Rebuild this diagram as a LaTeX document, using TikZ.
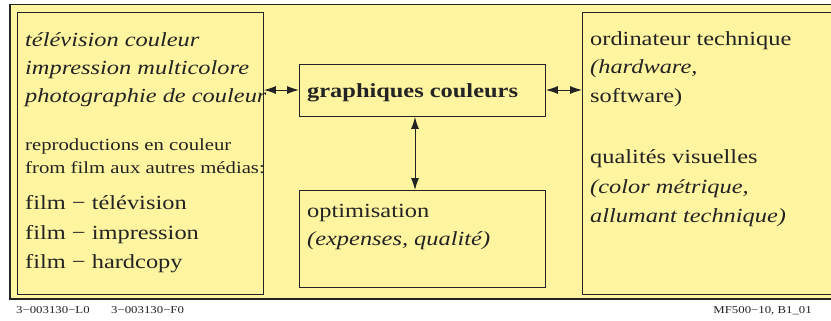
\documentclass[tikz,border=0pt]{standalone}
\usepackage{fontspec}
\setmainfont{Liberation Serif}[FakeStretch=1.22]
\usetikzlibrary{arrows.meta}
\definecolor{paper}{RGB}{255,245,160}
\definecolor{ink}{RGB}{35,35,35}
\begin{document}
\begin{tikzpicture}[x=1bp,y=-1bp,
  frame/.style={draw=ink,line width=1.3bp,fill=paper},
  box/.style={draw=ink,line width=0.9bp,fill=paper,inner sep=0pt,anchor=north west},
  txt/.style={anchor=base west,inner sep=0pt,text=ink},
  big/.style={font=\fontsize{20bp}{24bp}\selectfont},
  mid/.style={font=\fontsize{17bp}{20bp}\selectfont},
  tiny/.style={font=\fontsize{10.5bp}{12bp}\selectfont},
  link/.style={draw=ink,line width=1bp,{Latex[length=12bp,width=8bp]}-{Latex[length=12bp,width=8bp]}}]
\useasboundingbox (0,0) rectangle (831,320);
\clip (0,0) rectangle (831,320);
\fill[white] (0,0) rectangle (831,320);
% outer panel
\draw[frame] (10,4.5) rectangle (860,299);
% boxes
\node[box,minimum width=246bp,minimum height=282bp] (lb) at (17,12) {};
\node[box,minimum width=246bp,minimum height=52bp] (gc) at (299,64) {};
\node[box,minimum width=246bp,minimum height=97bp] (op) at (299,190) {};
\node[box,minimum width=270bp,minimum height=282bp] (rb) at (582,12) {};
% left box text
\node[txt,big] (l1) at (25,46) {\itshape télévision couleur};
\node[txt,big] (l2) at (25,74) {\itshape impression multicolore};
\node[txt,big] (l3) at (25,102) {\itshape photographie de couleur};
\node[txt,mid] (l4) at (25,150) {reproductions en couleur};
\node[txt,mid] (l5) at (25,173) {from film aux autres médias:};
\node[txt,big] (l6) at (25,209) {film − télévision};
\node[txt,big] (l7) at (25,239) {film − impression};
\node[txt,big] (l8) at (25,268) {film − hardcopy};
% centre boxes text
\node[txt,big] (g1) at (307,97) {\bfseries graphiques couleurs};
\node[txt,big] (o1) at (307,217) {optimisation};
\node[txt,big] (o2) at (307,245) {\itshape (expenses, qualité)};
% right box text
\node[txt,big] (r1) at (590,45) {ordinateur technique};
\node[txt,big] (r2) at (590,73) {\itshape (hardware,};
\node[txt,big] (r3) at (590,102) {software)};
\node[txt,big] (r4) at (590,163) {qualités visuelles};
\node[txt,big] (r5) at (590,193) {\itshape (color métrique,};
\node[txt,big] (r6) at (590,222) {\itshape allumant technique)};
% connectors
\coordinate (hy) at (0,90);
\coordinate (vx) at (415,0);
\draw[link] (lb.east |- hy) -- (gc.west |- hy);
\draw[link] (gc.east |- hy) -- (rb.west |- hy);
\draw[link] (gc.south -| vx) -- (op.north -| vx);
% footer
\node[txt,tiny] (f1) at (16,313) {3−003130−L0};
\node[txt,tiny] (f2) at (111,313) {3−003130−F0};
\node[txt,tiny,anchor=base east] (f3) at (812,313) {MF500−10, B1\_01};
\end{tikzpicture}
\end{document}
